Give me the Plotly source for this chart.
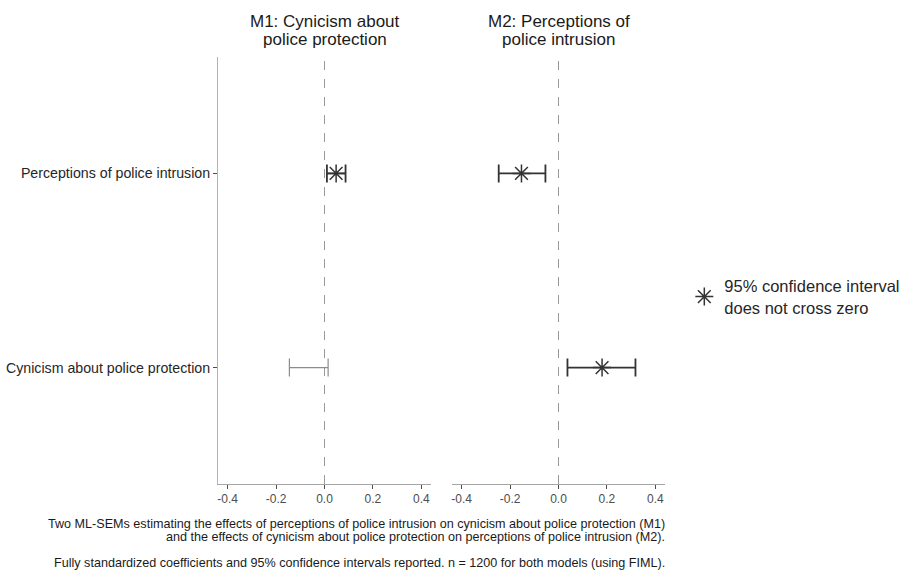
import plotly.graph_objects as go

# ---- data ----
categories = ["Cynicism about police protection", "Perceptions of police intrusion"]
panel_title_lines = [["M1: Cynicism about", "police protection"],
                     ["M2: Perceptions of", "police intrusion"]]

# M1 (outcome: cynicism) - predictor: perceptions of police intrusion
m1_pred = ["Perceptions of police intrusion"]
m1_est = [0.048]
m1_lo = [0.010]
m1_hi = [0.087]
# M1 non-significant row (CI crosses zero, no marker shown)
m1_ns_pred = ["Cynicism about police protection"]
m1_ns_est = [-0.065]
m1_ns_lo = [-0.145]
m1_ns_hi = [0.015]

# M2 (outcome: perceptions of intrusion)
m2_pred = ["Perceptions of police intrusion", "Cynicism about police protection"]
m2_est = [-0.153, 0.180]
m2_lo = [-0.247, 0.037]
m2_hi = [-0.054, 0.318]

x_ticks = [-0.4, -0.2, 0.0, 0.2, 0.4]
x_ticklabels = ["-0.4", "-0.2", "0.0", "0.2", "0.4"]

legend_label = "95% confidence interval<br>does not cross zero"
caption_lines = [
    "Two ML-SEMs estimating the effects of perceptions of police intrusion on cynicism about police protection (M1)",
    "and the effects of cynicism about police protection on perceptions of police intrusion (M2).",
    "Fully standardized coefficients and 95% confidence intervals reported. n = 1200 for both models (using FIML).",
]
caption_y_px = [524, 537, 563]

FONT = "Liberation Sans, Arial, sans-serif"
DARK = "#333333"
GREY = "#8c8c8c"

fig = go.Figure()

def sig_trace(pred, est, lo, hi, xaxis, yaxis, showlegend):
    return go.Scatter(
        x=est, y=pred, xaxis=xaxis, yaxis=yaxis, mode="markers",
        marker=dict(symbol="asterisk-open", size=15, color=DARK, line=dict(color=DARK, width=1.5)),
        error_x=dict(type="data", symmetric=False,
                     array=[h - e for h, e in zip(hi, est)],
                     arrayminus=[e - l for e, l in zip(est, lo)],
                     color=DARK, thickness=1.8, width=9),
        name=legend_label, showlegend=showlegend, hoverinfo="skip",
    )

fig.add_trace(sig_trace(m1_pred, m1_est, m1_lo, m1_hi, "x", "y", True))
fig.add_trace(go.Scatter(
    x=m1_ns_est, y=m1_ns_pred, xaxis="x", yaxis="y", mode="markers",
    marker=dict(size=1, color="rgba(0,0,0,0)"),
    error_x=dict(type="data", symmetric=False,
                 array=[h - e for h, e in zip(m1_ns_hi, m1_ns_est)],
                 arrayminus=[e - l for e, l in zip(m1_ns_est, m1_ns_lo)],
                 color=GREY, thickness=1.2, width=9),
    showlegend=False, hoverinfo="skip",
))
fig.add_trace(sig_trace(m2_pred, m2_est, m2_lo, m2_hi, "x2", "y2", False))

W, H = 910, 576
x1_dom = [218 / W, 431 / W]
x2_dom = [452 / W, 665 / W]
y_dom = [1 - 484 / H, 1 - 57 / H]

xax = dict(range=[-0.44, 0.44], tickvals=x_ticks, ticktext=x_ticklabels,
           showgrid=False, zeroline=False, showline=True, linecolor="#a6a6a6", linewidth=1,
           ticks="outside", ticklen=4, tickcolor="#4d4d4d", tickwidth=1,
           tickfont=dict(family=FONT, size=12, color="#4d4d4d"), fixedrange=True)
yax = dict(type="category", categoryorder="array", categoryarray=categories,
           range=[-0.6, 1.6], showgrid=False, zeroline=False, domain=y_dom, fixedrange=True)

fig.update_layout(
    width=W, height=H, margin=dict(l=0, r=0, t=0, b=0),
    paper_bgcolor="white", plot_bgcolor="white",
    font=dict(family=FONT, color="#000000"),
    xaxis=dict(domain=x1_dom, anchor="y", **xax),
    xaxis2=dict(domain=x2_dom, anchor="y2", **xax),
    yaxis=dict(anchor="x", showline=True, linecolor="#b3b3b3", linewidth=1,
               ticks="outside", ticklen=4, tickcolor="#4d4d4d",
               tickfont=dict(family=FONT, size=14.2, color="#262626"), **yax),
    yaxis2=dict(anchor="x2", showline=False, showticklabels=False, ticks="", **yax),
    showlegend=True,
    legend=dict(x=0.752, y=0.485, xanchor="left", yanchor="middle",
                font=dict(family=FONT, size=16.5, color="#262626"),
                bgcolor="rgba(0,0,0,0)", itemsizing="trace"),
)

for xr, yr in [("x", "y domain"), ("x2", "y2 domain")]:
    fig.add_shape(type="line", xref=xr, yref=yr, x0=0, x1=0, y0=0, y1=1,
                  line=dict(color="#999999", width=1, dash="dash"), layer="below")

title_y_px = [21, 40]
for xr, lines in zip(["x domain", "x2 domain"], panel_title_lines):
    for line, ypx in zip(lines, title_y_px):
        fig.add_annotation(text=line, xref=xr, yref="paper", x=0.5, y=1 - ypx / H,
                           xanchor="center", yanchor="middle", showarrow=False,
                           font=dict(family=FONT, size=17, color="#1a1a1a"))

for line, ypx in zip(caption_lines, caption_y_px):
    fig.add_annotation(text=line, xref="paper", yref="paper", x=667 / W, y=1 - ypx / H,
                       xanchor="right", yanchor="middle", showarrow=False,
                       font=dict(family=FONT, size=12.6, color="#1a1a1a"))

fig.write_html("out.html")
